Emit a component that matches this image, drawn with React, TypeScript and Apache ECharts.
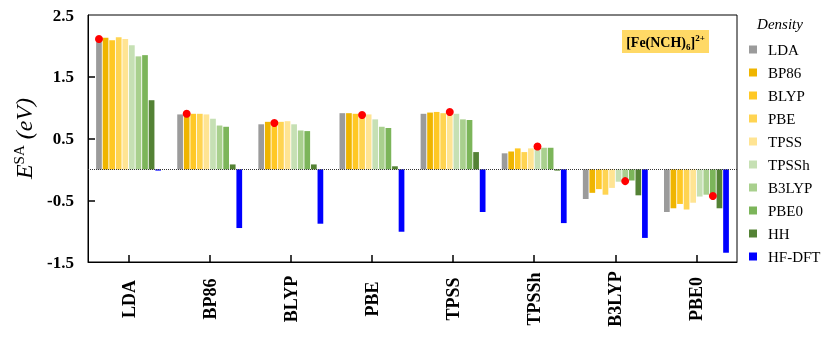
import React, { useEffect, useRef } from 'react';
import * as echarts from 'echarts';

// Functional used for the energy evaluation (x-axis categories)
const categories = ['LDA', 'BP86', 'BLYP', 'PBE', 'TPSS', 'TPSSh', 'B3LYP', 'PBE0'];

// Density used (one bar series each)
const densityNames = ['LDA', 'BP86', 'BLYP', 'PBE', 'TPSS', 'TPSSh', 'B3LYP', 'PBE0', 'HH', 'HF-DFT'];

const ldaDensity = [2.10, 0.89, 0.73, 0.91, 0.90, 0.26, -0.48, -0.69];
const bp86Density = [2.13, 0.89, 0.77, 0.91, 0.92, 0.29, -0.38, -0.63];
const blypDensity = [2.09, 0.90, 0.76, 0.90, 0.93, 0.34, -0.32, -0.56];
const pbeDensity = [2.14, 0.90, 0.77, 0.89, 0.91, 0.28, -0.41, -0.65];
const tpssDensity = [2.11, 0.89, 0.78, 0.89, 0.92, 0.34, -0.30, -0.54];
const tpsshDensity = [2.01, 0.82, 0.73, 0.81, 0.90, 0.36, -0.20, -0.44];
const b3lypDensity = [1.83, 0.71, 0.63, 0.69, 0.81, 0.35, -0.18, -0.41];
const pbe0Density = [1.85, 0.69, 0.62, 0.67, 0.80, 0.35, -0.18, -0.43];
const hhDensity = [1.12, 0.08, 0.08, 0.05, 0.28, -0.02, -0.42, -0.63];
const hfDftDensity = [-0.02, -0.95, -0.88, -1.01, -0.69, -0.87, -1.11, -1.35];

// Self-consistent values (red dots), one per functional
const selfConsistent = [2.11, 0.90, 0.75, 0.88, 0.93, 0.37, -0.19, -0.43];

const yLabelValues = [-1.5, -0.5, 0.5, 1.5, 2.5];
const yTickValues = [-0.5, 0.5, 1.5];

const colors = [
  '#9b9b9b', '#efb500', '#ffc825', '#ffd452', '#ffe493',
  '#c6e0b4', '#a9d08e', '#7cb55a', '#548235', '#0000ff',
];

const SERIF = '"Liberation Serif", "DejaVu Serif", serif';

export default function App() {
  const ref = useRef<HTMLDivElement>(null);

  useEffect(() => {
    if (!ref.current) return;
    const chart = echarts.init(ref.current, null, { renderer: 'svg' });
    const seriesValues = [
      ldaDensity, bp86Density, blypDensity, pbeDensity, tpssDensity,
      tpsshDensity, b3lypDensity, pbe0Density, hhDensity, hfDftDensity,
    ];

    const series: any[] = densityNames.map((name, i) => {
      const s: any = {
        name,
        type: 'bar',
        data: seriesValues[i],
        itemStyle: { color: colors[i] },
        barGap: '15%',
        barCategoryGap: '20%',
      };
      if (i < categories.length) {
        s.markPoint = {
          symbol: 'circle',
          symbolSize: 8,
          itemStyle: { color: '#ff0000' },
          label: { show: false },
          silent: true,
          data: [{ coord: [i, selfConsistent[i]] }],
        };
      }
      if (i === densityNames.length - 1) {
        s.markLine = {
          silent: true,
          symbol: 'none',
          label: { show: false },
          lineStyle: { type: 'dotted', color: '#333', width: 1 },
          data: [{ yAxis: 0 }],
        };
      }
      return s;
    });

    chart.setOption({
      animation: false,
      color: colors,
      grid: {
        left: 88, top: 15, right: 93, bottom: 86,
        show: true, borderColor: '#000', borderWidth: 1,
      },
      legend: {
        orient: 'vertical',
        left: 744,
        top: 37,
        icon: 'rect',
        itemWidth: 8,
        itemHeight: 8,
        itemGap: 8,
        selectedMode: false,
        textStyle: { fontFamily: SERIF, fontSize: 15, color: '#000', padding: [0, 0, 0, 6] },
        data: densityNames,
      },
      xAxis: {
        type: 'category',
        data: categories,
        axisLine: { show: true, onZero: false, lineStyle: { color: '#000', width: 1 } },
        axisTick: { show: true, inside: true, alignWithLabel: true, length: 7, lineStyle: { color: '#000', width: 1.5 } },
        axisLabel: {
          rotate: 90,
          align: 'center',
          margin: 37,
          fontFamily: SERIF,
          fontWeight: 'bold',
          fontSize: 18,
          color: '#000',
        },
      },
      yAxis: {
        type: 'value',
        min: -1.5,
        max: 2.5,
        name: '{e|E}{s|SA}{i| (eV)}',
        nameLocation: 'middle',
        nameGap: 46,
        nameRotate: 90,
        nameTextStyle: {
          rich: {
            e: { fontFamily: SERIF, fontStyle: 'italic', fontSize: 24, color: '#000', lineHeight: 26 },
            s: { fontFamily: SERIF, fontSize: 15, color: '#000', verticalAlign: 'top', lineHeight: 26 },
            i: { fontFamily: SERIF, fontStyle: 'italic', fontSize: 24, color: '#000', lineHeight: 26 },
          },
        },
        splitLine: { show: false },
        axisLine: { show: true, lineStyle: { color: '#000', width: 1 } },
        axisTick: {
          show: true, inside: true, length: 7,
          customValues: yTickValues,
          lineStyle: { color: '#000', width: 1.5 },
        },
        axisLabel: {
          customValues: yLabelValues,
          formatter: (v: number) => v.toFixed(1),
          margin: 14,
          fontFamily: SERIF,
          fontWeight: 'bold',
          fontSize: 17,
          color: '#000',
        },
      },
      graphic: [
        {
          type: 'text',
          x: 780,
          y: 24,
          style: {
            text: 'Density',
            font: `italic 15px ${SERIF}`,
            fill: '#000',
            align: 'center',
            verticalAlign: 'middle',
          },
        },
        {
          type: 'rect',
          shape: { x: 622, y: 30, width: 87, height: 23 },
          style: { fill: '#ffd966' },
        },
        {
          type: 'text',
          x: 665.5,
          y: 42,
          style: {
            text: '{b|[Fe(NCH)}{sub|6}{b|]}{sup|2+}',
            align: 'center',
            verticalAlign: 'middle',
            rich: {
              b: { fontFamily: SERIF, fontWeight: 'bold', fontSize: 14, fill: '#000', lineHeight: 18 },
              sub: { fontFamily: SERIF, fontWeight: 'bold', fontSize: 9, fill: '#000', verticalAlign: 'bottom', lineHeight: 18 },
              sup: { fontFamily: SERIF, fontWeight: 'bold', fontSize: 9, fill: '#000', verticalAlign: 'top', lineHeight: 18 },
            },
          },
        },
      ],
      series,
    });

    return () => chart.dispose();
  }, []);

  return (
    <div
      ref={ref}
      style={{ position: 'fixed', left: 0, top: 0, width: 830, height: 348 }}
    />
  );
}
